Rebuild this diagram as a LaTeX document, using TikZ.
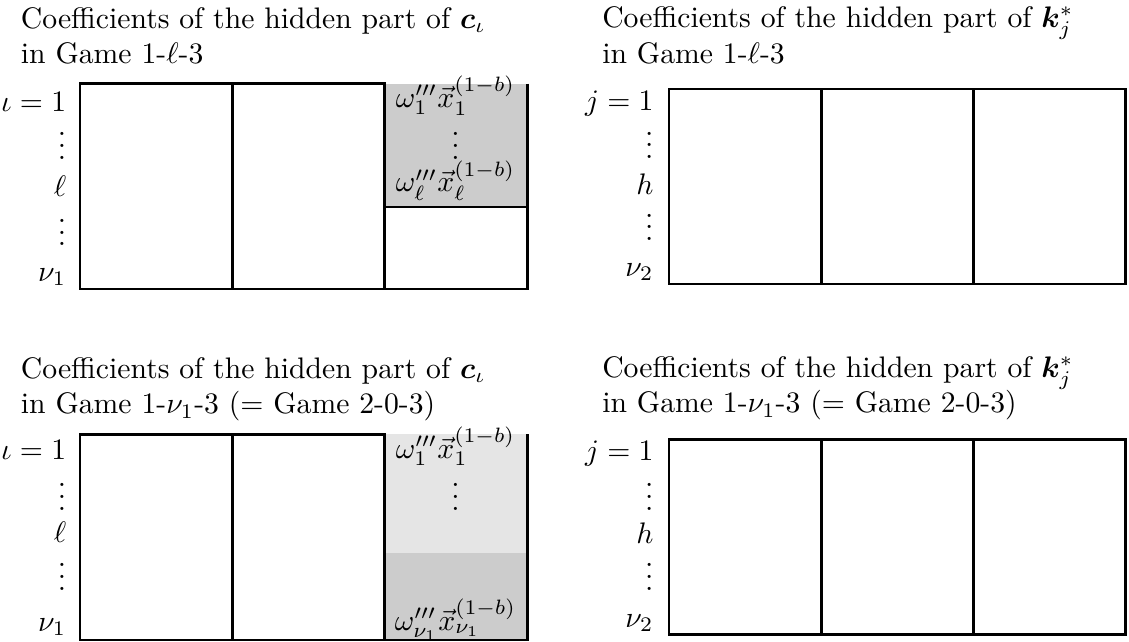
\documentclass[tikz,border=0pt]{standalone}
\usepackage{amsmath}
\usepackage{bm}
\usetikzlibrary{positioning}

\begin{document}
\begin{tikzpicture}[
cell/.style={rectangle, draw, thick, minimum width=1.8cm, minimum height=2.43cm, inner sep=0pt, outer sep=0pt},
kcell/.style={cell, minimum height=2.31cm},
hidden/.style={rectangle, inner sep=0pt, outer sep=0pt, minimum width=1.69cm},
title/.style={anchor=north west, align=left, inner sep=0pt},
idx/.style={anchor=base east, inner sep=0pt},
idxdots/.style={idx, text height=9.5pt},
coef/.style={anchor=base, inner sep=0pt},
coefdots/.style={coef, text height=9.5pt}
]
\useasboundingbox (0,0) rectangle (13.36,-7.59);

% Top left - c_iota in Game 1-l-3
\node[title] (title_c1) at (0.24,-0.08) {Coefficients of the hidden part of $\bm{c}_\iota$\\in Game 1-$\ell$-3};
\node[cell, anchor=north west] (c1_a) at (0.95,-0.99) {};
\node[cell, right=0pt of c1_a] (c1_b) {};
\node[hidden, fill=gray!40, minimum height=1.46cm, anchor=north west] (c1_top) at (c1_b.north east) {};
\node[cell, minimum width=1.69cm, minimum height=0.97cm, anchor=north west] (c1_low) at (c1_top.south west) {};
\draw[thick] (c1_b.north east) -- (c1_b.south east);
\draw[thick] (c1_top.north east) -- (c1_top.south east);

\node[coef] (c1_x1) at (5.39,-1.27) {$\omega'''_1\vec{x}^{(1-b)}_1$};
\node[coefdots] (c1_xd) at (5.39,-1.89) {$\vdots$};
\node[coef] (c1_xl) at (5.39,-2.27) {$\omega'''_\ell\vec{x}^{(1-b)}_\ell$};

\node[idx] (c1_r1) at (0.79,-1.32) {$\iota = 1$};
\node[idxdots] (c1_d1) at (0.79,-1.89) {$\vdots$};
\node[idx] (c1_rl) at (0.79,-2.32) {$\ell$};
\node[idxdots] (c1_d2) at (0.79,-2.91) {$\vdots$};
\node[idx] (c1_rn) at (0.79,-3.33) {$\nu_1$};

% Top right - k_j^* in Game 1-l-3
\node[title] (title_k1) at (7.12,-0.07) {Coefficients of the hidden part of $\bm{k}^*_j$\\in Game 1-$\ell$-3};
\node[kcell, anchor=north west] (k1_a) at (7.92,-1.05) {};
\node[kcell, right=0pt of k1_a] (k1_b) {};
\node[kcell, right=0pt of k1_b] (k1_c) {};

\node[idx] (k1_r1) at (7.74,-1.31) {$j = 1$};
\node[idxdots] (k1_d1) at (7.74,-1.88) {$\vdots$};
\node[idx] (k1_rh) at (7.74,-2.3) {$h$};
\node[idxdots] (k1_d2) at (7.74,-2.85) {$\vdots$};
\node[idx] (k1_rn) at (7.74,-3.27) {$\nu_2$};

% Bottom left - c_iota in Game 1-nu_1-3
\node[title] (title_c2) at (0.24,-4.22) {Coefficients of the hidden part of $\bm{c}_\iota$\\in Game 1-$\nu_1$-3 (= Game 2-0-3)};
\node[cell, anchor=north west] (c2_a) at (0.95,-5.14) {};
\node[cell, right=0pt of c2_a] (c2_b) {};
\node[hidden, fill=gray!20, minimum height=1.4cm, anchor=north west] (c2_top) at (c2_b.north east) {};
\node[hidden, fill=gray!40, minimum height=1.03cm, anchor=north west] (c2_low) at (c2_top.south west) {};
\draw[thick] (c2_b.north east) -- (c2_b.south east);
\draw[thick] (c2_top.north east) -- (c2_low.south east) -- (c2_low.south west);

\node[coef] (c2_x1) at (5.39,-5.42) {$\omega'''_1\vec{x}^{(1-b)}_1$};
\node[coefdots] (c2_xd) at (5.39,-6.04) {$\vdots$};
\node[coef] (c2_xn) at (5.39,-7.46) {$\omega'''_{\nu_1}\vec{x}^{(1-b)}_{\nu_1}$};

\node[idx] (c2_r1) at (0.79,-5.44) {$\iota = 1$};
\node[idxdots] (c2_d1) at (0.79,-6.04) {$\vdots$};
\node[idx] (c2_rl) at (0.79,-6.42) {$\ell$};
\node[idxdots] (c2_d2) at (0.79,-6.99) {$\vdots$};
\node[idx] (c2_rn) at (0.79,-7.47) {$\nu_1$};

% Bottom right - k_j^* in Game 1-nu_1-3
\node[title] (title_k2) at (7.12,-4.21) {Coefficients of the hidden part of $\bm{k}^*_j$\\in Game 1-$\nu_1$-3 (= Game 2-0-3)};
\node[kcell, anchor=north west] (k2_a) at (7.92,-5.2) {};
\node[kcell, right=0pt of k2_a] (k2_b) {};
\node[kcell, right=0pt of k2_b] (k2_c) {};

\node[idx] (k2_r1) at (7.74,-5.45) {$j = 1$};
\node[idxdots] (k2_d1) at (7.74,-6.04) {$\vdots$};
\node[idx] (k2_rh) at (7.74,-6.43) {$h$};
\node[idxdots] (k2_d2) at (7.74,-6.99) {$\vdots$};
\node[idx] (k2_rn) at (7.74,-7.42) {$\nu_2$};

\end{tikzpicture}
\end{document}
